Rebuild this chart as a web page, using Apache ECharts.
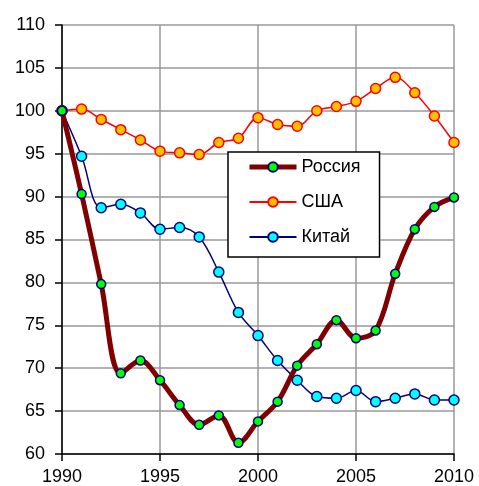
<!DOCTYPE html>
<html>
<head>
<meta charset="utf-8">
<script src="https://cdn.jsdelivr.net/npm/echarts@6/dist/echarts.min.js"></script>
<style>
  html, body { margin: 0; padding: 0; background: #fff; }
  #main { width: 479px; height: 486px; }
</style>
</head>
<body>
<div id="main"></div>
<script>
// годы и значения (1990 = 100)
var years = [1990, 1991, 1992, 1993, 1994, 1995, 1996, 1997, 1998, 1999, 2000,
             2001, 2002, 2003, 2004, 2005, 2006, 2007, 2008, 2009, 2010]
var russia = [100, 90.3, 79.8, 69.4, 70.9, 68.6, 65.7, 63.4, 64.5, 61.3, 63.8,
              66.1, 70.3, 72.8, 75.6, 73.5, 74.4, 81.0, 86.2, 88.8, 89.9]
var usa = [100, 100.2, 99.0, 97.8, 96.6, 95.3, 95.1, 94.9, 96.3, 96.8, 99.2,
           98.4, 98.2, 100.0, 100.5, 101.1, 102.6, 103.9, 102.1, 99.4, 96.3]
var china = [100, 94.7, 88.7, 89.1, 88.1, 86.2, 86.4, 85.3, 81.2, 76.5, 73.8,
             70.9, 68.6, 66.7, 66.5, 67.4, 66.1, 66.5, 67.0, 66.3, 66.3]
var seriesNames = ['Россия', 'США', 'Китай']

function pairs(list) {
  var out = []
  for (var i = 0; i < years.length; i++) {
    out.push([years[i], list[i]])
  }
  return out
}

var chart = echarts.init(document.getElementById('main'), null, { renderer: 'canvas' })
var font = 'Liberation Sans, Arial, sans-serif'

var option = {
  animation: false,
  textStyle: { fontFamily: font },
  grid: { left: 62, right: 25, top: 25, bottom: 32 },
  legend: {
    data: [
      { name: seriesNames[0], lineStyle: { width: 5 } },
      { name: seriesNames[1] },
      { name: seriesNames[2] }
    ],
    orient: 'vertical',
    left: 228,
    top: 152,
    padding: [5, 19, 10, 19],
    itemGap: 15,
    itemWidth: 47,
    itemHeight: 12,
    backgroundColor: '#fff',
    borderColor: '#000',
    borderWidth: 1.5,
    textStyle: { fontSize: 18, lineHeight: 20, color: '#000', fontFamily: font }
  },
  xAxis: {
    type: 'value',
    min: 1990,
    max: 2010,
    interval: 5,
    axisLine: { show: true, lineStyle: { color: '#000', width: 1.5 } },
    axisTick: { show: true, inside: false, length: 7, lineStyle: { color: '#000', width: 1.5 } },
    axisLabel: {
      fontSize: 18, color: '#000', margin: 14, fontFamily: font,
      formatter: function (v) { return String(v) }
    },
    splitLine: { show: true, lineStyle: { color: '#999', width: 1.5 } }
  },
  yAxis: {
    type: 'value',
    min: 60,
    max: 110,
    interval: 5,
    axisLine: { show: true, lineStyle: { color: '#000', width: 1.5 } },
    axisTick: { show: true, inside: false, length: 7, lineStyle: { color: '#000', width: 1.5 } },
    axisLabel: { fontSize: 18, color: '#000', margin: 17, fontFamily: font },
    splitLine: { show: true, lineStyle: { color: '#999', width: 1.5 } }
  },
  series: [
    {
      name: 'США',
      type: 'line',
      smooth: 0.35,
      data: pairs(usa),
      symbol: 'circle',
      symbolSize: 10,
      lineStyle: { color: '#ff0000', width: 1.5 },
      itemStyle: { color: '#ffc000', borderColor: '#ff0000', borderWidth: 1.5 },
      z: 3
    },
    {
      name: 'Китай',
      type: 'line',
      smooth: 0.35,
      data: pairs(china),
      symbol: 'circle',
      symbolSize: 10,
      lineStyle: { color: '#000080', width: 1.5 },
      itemStyle: { color: '#00ffff', borderColor: '#000080', borderWidth: 1.5 },
      z: 4
    },
    {
      name: 'Россия',
      type: 'line',
      smooth: 0.35,
      data: pairs(russia),
      symbol: 'circle',
      symbolSize: 9,
      lineStyle: { color: '#800000', width: 5 },
      itemStyle: { color: '#00ff00', borderColor: '#000080', borderWidth: 1.5 },
      z: 5
    }
  ]
}
chart.setOption(option)
</script>
</body>
</html>
